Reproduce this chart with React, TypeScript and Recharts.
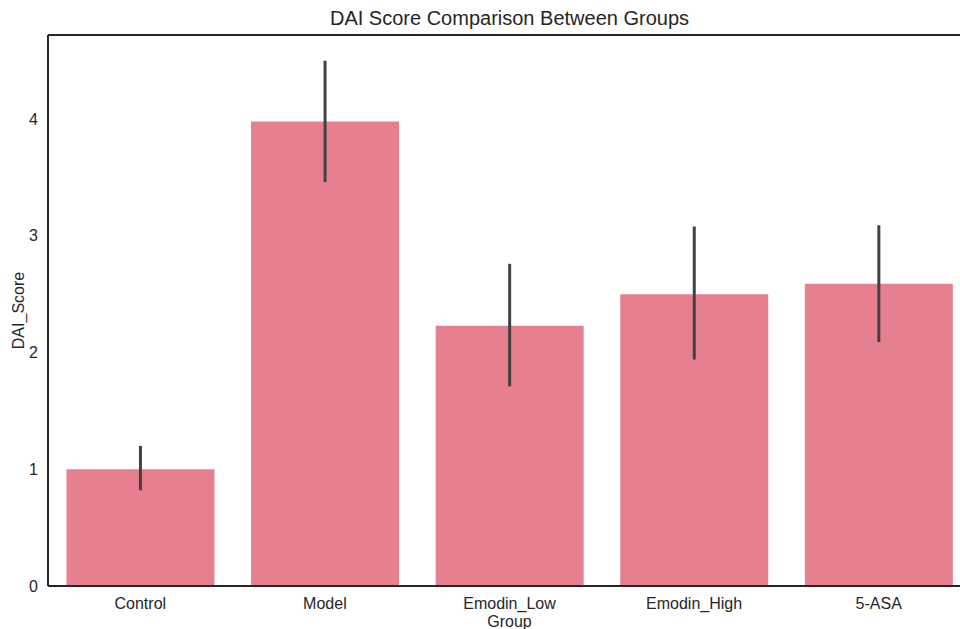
import { BarChart, Bar, XAxis, YAxis, ErrorBar, ReferenceLine } from 'recharts';

const groups = ['Control', 'Model', 'Emodin_Low', 'Emodin_High', '5-ASA'];
const meanScores = [1.0, 3.98, 2.23, 2.5, 2.59];
const ciLow = [0.82, 3.46, 1.71, 1.94, 2.09];
const ciHigh = [1.2, 4.5, 2.76, 3.08, 3.09];
const yTicks = [0, 1, 2, 3, 4];
const yMax = 4.72;

const data = groups.map((g, i) => ({
  group: g,
  score: meanScores[i],
  err: [meanScores[i] - ciLow[i], ciHigh[i] - meanScores[i]],
}));

const FONT = '"Liberation Sans", Arial, sans-serif';
const TEXT = '#262626';

export default function App() {
  return (
    <div
      style={{
        position: 'absolute',
        left: 0,
        top: 0,
        width: 960,
        height: 629,
        overflow: 'hidden',
        background: '#fff',
        fontFamily: FONT,
      }}
    >
      <div
        style={{
          position: 'absolute',
          left: 48,
          width: 923,
          top: 7,
          textAlign: 'center',
          fontSize: 20,
          color: TEXT,
        }}
      >
        DAI Score Comparison Between Groups
      </div>
      <BarChart
        width={980}
        height={629}
        data={data}
        margin={{ top: 35, right: 9, left: 0, bottom: 0 }}
        barCategoryGap="10%"
        style={{ position: 'absolute', left: 0, top: 0 }}
      >
        <XAxis
          dataKey="group"
          height={43}
          tickLine={false}
          tickMargin={6}
          axisLine={{ stroke: TEXT, strokeWidth: 2 }}
          tick={{ fontSize: 16, fill: TEXT, fontFamily: FONT }}
          label={{
            value: 'Group',
            position: 'insideBottom',
            offset: 2,
            style: { fontSize: 16, fill: TEXT, fontFamily: FONT },
          }}
        />
        <YAxis
          width={48}
          domain={[0, yMax]}
          ticks={yTicks}
          tickLine={false}
          tickMargin={4}
          axisLine={{ stroke: TEXT, strokeWidth: 2 }}
          tick={{ fontSize: 16, fill: TEXT, fontFamily: FONT }}
          label={{
            value: 'DAI_Score',
            angle: -90,
            position: 'insideLeft',
            offset: 18,
            style: { fontSize: 16, fill: TEXT, fontFamily: FONT, textAnchor: 'middle' },
          }}
        />
        <ReferenceLine y={yMax} stroke={TEXT} strokeWidth={2} />
        <Bar dataKey="score" fill="#E6808F" isAnimationActive={false}>
          <ErrorBar
            dataKey="err"
            width={0}
            strokeWidth={3}
            stroke="#424242"
            direction="y"
            isAnimationActive={false}
          />
        </Bar>
      </BarChart>
    </div>
  );
}
